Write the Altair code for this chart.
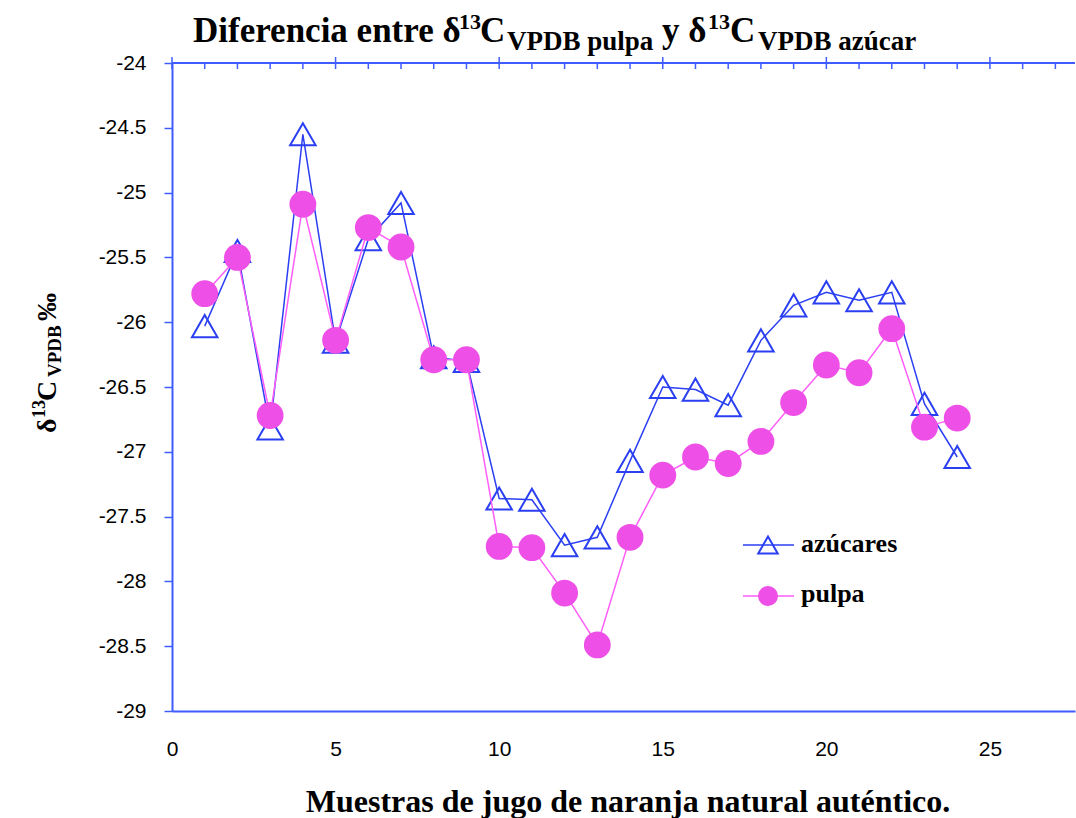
import altair as alt
import pandas as pd

# Sample number and δ13C (VPDB, ‰) of sugars and pulp for each authentic orange juice
muestras = list(range(1, 25))
azucares = [-26.03, -25.45, -26.82, -24.55, -26.15, -25.36, -25.08, -26.27, -26.30,
            -27.36, -27.37, -27.72, -27.66, -27.07, -26.50, -26.52, -26.64, -26.14,
            -25.87, -25.77, -25.83, -25.77, -26.63, -27.04]
pulpa = [-25.78, -25.50, -26.72, -25.09, -26.14, -25.27, -25.42, -26.29, -26.29,
         -27.73, -27.74, -28.09, -28.49, -27.66, -27.18, -27.04, -27.09, -26.92,
         -26.62, -26.33, -26.39, -26.05, -26.81, -26.74]

series_names = ["azúcares", "pulpa"]
x_labels = [0, 5, 10, 15, 20, 25]
x_minor = list(range(0, 28))
y_labels = [-29, -28.5, -28, -27.5, -27, -26.5, -26, -25.5, -25, -24.5, -24]

W, H = 903, 648
BLUE = "#2B3FF2"
AXIS = "#3F5CFF"
MAG_FILL = "#EE4FE6"
MAG_LINE = "#FF5EF8"
SERIF = "Liberation Serif"
SANS = "Liberation Sans"

df_az = pd.DataFrame({"muestra": muestras, "valor": azucares})
df_pu = pd.DataFrame({"muestra": muestras, "valor": pulpa})
df_ticks = pd.DataFrame({"muestra": x_minor})
df_major = pd.DataFrame({"muestra": x_labels})
one = pd.DataFrame({"k": [0]})

xs = alt.Scale(domain=[0, 27.6], nice=False, zero=False)
ys = alt.Scale(domain=[-29, -24], nice=False, zero=False)

x_axis = alt.Axis(values=x_labels, orient="bottom", ticks=False, tickSize=0,
                  labelPadding=27, domainColor=AXIS, domainWidth=2, grid=False,
                  title=None, labelFont=SANS, labelFontSize=21, labelColor="black",
                  labelFlush=False)
y_axis = alt.Axis(values=y_labels, orient="left", tickSize=8, tickColor=AXIS,
                  tickWidth=1.5, domainColor=AXIS, domainWidth=2, grid=False,
                  title=None, labelFont=SANS, labelFontSize=21, labelColor="black",
                  labelPadding=18, labelExpr="'' + datum.value", labelFlush=False)

X = alt.X("muestra:Q", scale=xs, axis=x_axis)
Y = alt.Y("valor:Q", scale=ys, axis=y_axis)

# top frame line with inward minor ticks and crossing major ticks
top_line = alt.Chart(one).mark_rule(color=AXIS, strokeWidth=2).encode(
    x=alt.value(0), x2=alt.value(W), y=alt.value(0))
ticks_in = alt.Chart(df_ticks).mark_rule(color=AXIS, strokeWidth=1.5).encode(
    x=X, y=alt.value(0), y2=alt.value(6))
ticks_out = alt.Chart(df_major).mark_rule(color=AXIS, strokeWidth=1.5).encode(
    x=X, y=alt.value(-6), y2=alt.value(0))

az_line = alt.Chart(df_az).mark_line(color=BLUE, strokeWidth=1.5).encode(x=X, y=Y)
az_pts = alt.Chart(df_az).mark_point(shape="triangle-up", filled=False, size=650,
                                     strokeWidth=2, color=BLUE, opacity=1).encode(x=X, y=Y)
pu_line = alt.Chart(df_pu).mark_line(color=MAG_LINE, strokeWidth=1.5).encode(x=X, y=Y)
pu_pts = alt.Chart(df_pu).mark_circle(size=720, color=MAG_FILL, opacity=1).encode(x=X, y=Y)


def piece(txt, x, y, size, angle=0, font=SERIF, bold=True, align="left"):
    return alt.Chart(one).mark_text(
        text=txt, align=align, baseline="alphabetic", font=font,
        fontWeight="bold" if bold else "normal", fontSize=size, angle=angle,
        color="black").encode(x=alt.value(x), y=alt.value(y))


# legend
leg_az = pd.DataFrame({"serie": [series_names[0]]})
leg_pu = pd.DataFrame({"serie": [series_names[1]]})
legend = [
    alt.Chart(leg_az).mark_rule(color=BLUE, strokeWidth=1.5).encode(
        x=alt.value(571), x2=alt.value(622), y=alt.value(482)),
    alt.Chart(leg_az).mark_point(shape="triangle-up", filled=False, size=380,
                                 strokeWidth=2, color=BLUE, opacity=1).encode(
        x=alt.value(596), y=alt.value(482)),
    alt.Chart(leg_az).mark_text(align="left", baseline="alphabetic", font=SERIF,
                                fontWeight="bold", fontSize=26, color="black").encode(
        x=alt.value(629), y=alt.value(489), text="serie:N"),
    alt.Chart(leg_pu).mark_rule(color=MAG_LINE, strokeWidth=1.5).encode(
        x=alt.value(571), x2=alt.value(622), y=alt.value(533)),
    alt.Chart(leg_pu).mark_circle(size=400, color=MAG_FILL, opacity=1).encode(
        x=alt.value(596), y=alt.value(533)),
    alt.Chart(leg_pu).mark_text(align="left", baseline="alphabetic", font=SERIF,
                                fontWeight="bold", fontSize=26, color="black").encode(
        x=alt.value(629), y=alt.value(539), text="serie:N"),
]

# chart title with super/subscripts
title = [
    piece("Diferencia entre δ", 21, -21, 35),
    piece("13", 287, -34, 22),
    piece("C", 308, -21, 35),
    piece("VPDB pulpa", 335, -13, 27),
    piece("y δ", 490, -21, 35),
    piece("13", 536, -34, 22),
    piece("C", 558, -21, 35),
    piece("VPDB azúcar", 586, -13, 27),
]

# rotated y-axis title
ytitle = [
    piece("δ", -116, 370, 28, angle=270),
    piece("13", -127, 355, 18, angle=270),
    piece("C", -116, 338, 28, angle=270),
    piece("VPDB", -111, 314, 19, angle=270),
    piece("‰", -116, 258, 28, angle=270),
]

xtitle = [piece("Muestras de jugo de naranja natural auténtico.", 456, 749, 32,
                align="center")]

chart = alt.layer(
    top_line, ticks_in, ticks_out, az_line, az_pts, pu_line, pu_pts,
    *legend, *title, *ytitle, *xtitle
).properties(
    width=W, height=H,
    padding={"left": 172, "top": 63, "right": 1, "bottom": 107},
    autosize=alt.AutoSizeParams(type="none"),
    background="white",
).configure_view(stroke=None)

chart.save("out.html", embed_options={"renderer": "svg", "actions": False})
